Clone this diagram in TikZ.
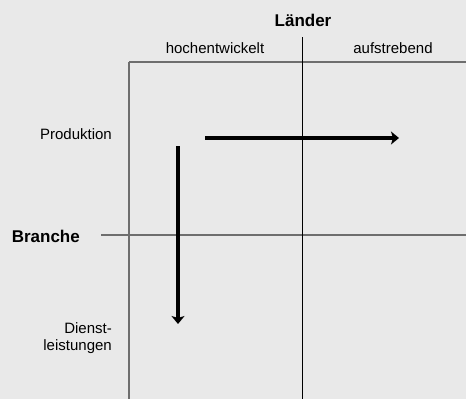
\documentclass[tikz,border=0pt]{standalone}
\usepackage{fontspec}
\setmainfont{Liberation Sans}
\usetikzlibrary{arrows.meta}
\tikzset{>={Stealth[length=8pt,width=13pt,inset=2pt]}}
\definecolor{paper}{HTML}{E9E9E9}
\definecolor{gridgray}{HTML}{6E6E6E}

\begin{document}
\begin{tikzpicture}[x=1pt,y=-1pt,
  label/.style={font=\fontsize{15}{16.5}\selectfont,inner sep=0pt},
  head/.style={font=\fontsize{17}{20}\selectfont\bfseries,inner sep=0pt},
  gridline/.style={draw=gridgray,line width=1.5pt},
  flow/.style={->,line width=3.8pt}]
  % background
  \fill[paper] (0,0) rectangle (466,399);
  \useasboundingbox (0,0) rectangle (466,399);
  % corner points of the matrix
  \coordinate (topleft)   at (129,62);
  \coordinate (topright)  at (466,62);
  \coordinate (botleft)   at (129,399);
  \coordinate (midleft)   at (101,235);
  \coordinate (midright)  at (466,235);
  \coordinate (splittop)  at (302,37);
  \coordinate (splitbot)  at (302,399);
  % headings
  \node[head]  (laender) at (303,20)  {Länder};
  \node[head,anchor=east] (branche) at (80,236) {Branche};
  \node[label] (hoch)    at (215,48)  {hochentwickelt};
  \node[label] (auf)     at (393,48)  {aufstrebend};
  \node[label,anchor=east] (prod) at (112,134) {Produktion};
  \node[label,anchor=east,align=right] (dienst) at (112,338) {Dienst-\\leistungen};
  % grid
  \draw[gridline] (topleft) -- (topright);
  \draw[gridline] (topleft) -- (botleft);
  \draw[gridline] (midleft) -- (midright);
  \draw[line width=1pt] (splittop) -- (splitbot);
  % movements
  \coordinate (hstart) at (205,138);
  \coordinate (hend)   at (399,138);
  \coordinate (vstart) at (178,146);
  \coordinate (vend)   at (178,324);
  \draw[flow] (hstart) -- (hend);
  \draw[flow] (vstart) -- (vend);
\end{tikzpicture}
\end{document}
